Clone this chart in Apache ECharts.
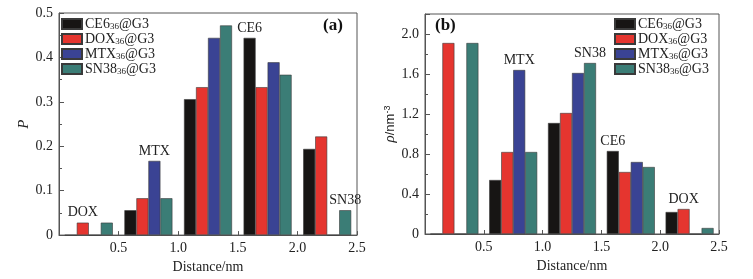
<!DOCTYPE html>
<html>
<head>
<meta charset="utf-8">
<script src="https://cdn.jsdelivr.net/npm/echarts@6/dist/echarts.min.js"></script>
<style>
html, body { margin: 0; padding: 0; background: #fff; }
#main { width: 753px; height: 279px; }
</style>
</head>
<body>
<div id="main"></div>
<script>
// distance bins (nm), bars sit inside each 0.5 nm bin
const bins = ['0-0.5', '0.5-1.0', '1.0-1.5', '1.5-2.0', '2.0-2.5'];
const drugs = ['CE6', 'DOX', 'MTX', 'SN38'];
const colors = ['#171514', '#e5352f', '#3a4394', '#3b7d76'];

// (a) probability P
const pCE6  = [0,     0.056, 0.306, 0.444, 0.194];
const pDOX  = [0.028, 0.083, 0.333, 0.333, 0.222];
const pMTX  = [0,     0.167, 0.444, 0.389, 0];
const pSN38 = [0.028, 0.083, 0.472, 0.361, 0.056];

// (b) density rho / nm^-3
const rCE6  = [0,    0.54, 1.11, 0.83, 0.22];
const rDOX  = [1.91, 0.82, 1.21, 0.62, 0.25];
const rMTX  = [0,    1.64, 1.61, 0.72, 0];
const rSN38 = [1.91, 0.82, 1.71, 0.67, 0.06];

// text tags above single bars: [drug index, bin index, text]
const tagsA = [[1, 0, 'DOX'], [2, 1, 'MTX'], [0, 3, 'CE6'], [3, 4, 'SN38']];
const tagsB = [[2, 1, 'MTX'], [3, 2, 'SN38'], [0, 3, 'CE6'], [1, 4, 'DOX']];

const FONT = 'Liberation Serif';
const TXT = '#222';
const AX = '#555';

const chart = echarts.init(document.getElementById('main'));

function seriesName(d) { return d + '_36@G3'; }

function buildSeries(valsList, tags, xIdx, yIdx) {
  return valsList.map((vals, i) => ({
    name: seriesName(drugs[i]),
    type: 'bar',
    xAxisIndex: xIdx,
    yAxisIndex: yIdx,
    barWidth: 12,
    barGap: '0%',
    itemStyle: { color: colors[i], borderColor: '#3a3a3a', borderWidth: 0.6 },
    data: vals.map((v, j) => {
      const tag = tags.find(t => t[0] === i && t[1] === j);
      if (!tag) return v;
      return {
        value: v,
        label: { show: true, position: 'top', distance: 3, formatter: tag[2],
                 fontFamily: FONT, fontSize: 14, color: TXT }
      };
    })
  }));
}

function legendFor(left, top) {
  return {
    left: left, top: top, orient: 'vertical',
    itemWidth: 20, itemHeight: 10, itemGap: 1, padding: 0,
    icon: 'rect',
    data: drugs.map(seriesName),
    formatter: n => '{t|' + n.split('_')[0] + '}{s|36}{t|@G3}',
    textStyle: {
      padding: [0, 0, 0, -2],
      rich: {
        t: { fontFamily: FONT, fontSize: 14, color: TXT, lineHeight: 14, verticalAlign: 'top' },
        s: { fontFamily: FONT, fontSize: 9, color: TXT, lineHeight: 10, verticalAlign: 'bottom', padding: [5, 0, 0, 0] }
      }
    }
  };
}

function valueX(grid) {
  return {
    type: 'value', gridIndex: grid, position: 'bottom',
    min: 0, max: 2.5, interval: 0.5,
    name: 'Distance/nm', nameLocation: 'middle', nameGap: 21,
    nameTextStyle: { fontFamily: FONT, fontSize: 14, color: TXT },
    axisLine: { lineStyle: { color: AX, width: 1 } },
    axisTick: { inside: true, length: 4, lineStyle: { color: AX } },
    axisLabel: { fontFamily: FONT, fontSize: 14, color: TXT, margin: 6,
                 formatter: v => v === 0 ? '' : v.toFixed(1) },
    splitLine: { show: false }
  };
}

function catX(grid) {
  return { type: 'category', gridIndex: grid, position: 'bottom', data: bins, show: false };
}

function valueY(grid, max, interval, name, gap, nameStyle) {
  return {
    type: 'value', gridIndex: grid, min: 0, max: max, interval: interval,
    name: name, nameLocation: 'middle', nameGap: gap,
    nameTextStyle: nameStyle,
    axisLine: { show: true, lineStyle: { color: AX, width: 1 } },
    axisTick: { show: true, inside: true, length: 5, lineStyle: { color: AX } },
    minorTick: { show: true, splitNumber: 2, length: 3, lineStyle: { color: AX } },
    axisLabel: { fontFamily: FONT, fontSize: 14, color: TXT, margin: 6, showMaxLabel: max !== 2.2,
                 formatter: v => v === 0 ? '0' : (v > 2.1 ? '' : v.toFixed(1)) },
    splitLine: { show: false }
  };
}

chart.setOption({
  backgroundColor: '#fff',
  animation: false,
  grid: [
    { left: 59, top: 13, width: 298, height: 223, show: true, borderColor: AX, borderWidth: 1, backgroundColor: 'transparent' },
    { left: 425, top: 14, width: 294, height: 220, show: true, borderColor: AX, borderWidth: 1, backgroundColor: 'transparent' }
  ],
  legend: [legendFor(61, 17), legendFor(614, 17)],
  xAxis: [catX(0), valueX(0), catX(1), valueX(1)],
  yAxis: [
    valueY(0, 0.5, 0.1, 'P', 27, { fontFamily: FONT, fontSize: 15, fontStyle: 'italic', color: TXT }),
    valueY(1, 2.2, 0.4, '{i|ρ}{n|/nm}{s|-3}', 24, {
      rich: {
        i: { fontFamily: FONT, fontSize: 15, fontStyle: 'italic', color: TXT },
        n: { fontFamily: 'Liberation Sans', fontSize: 13, color: TXT },
        s: { fontFamily: 'Liberation Sans', fontSize: 9, color: TXT, verticalAlign: 'top', padding: [0, 0, 6, 0] }
      }
    })
  ],
  graphic: [
    { type: 'text', left: 323, top: 17, style: { text: '(a)', font: 'bold 17px "Liberation Serif"', fill: '#111' } },
    { type: 'text', left: 435, top: 17, style: { text: '(b)', font: 'bold 17px "Liberation Serif"', fill: '#111' } }
  ],
  series: [
    ...buildSeries([pCE6, pDOX, pMTX, pSN38], tagsA, 0, 0),
    ...buildSeries([rCE6, rDOX, rMTX, rSN38], tagsB, 2, 1)
  ]
});
</script>
</body>
</html>
